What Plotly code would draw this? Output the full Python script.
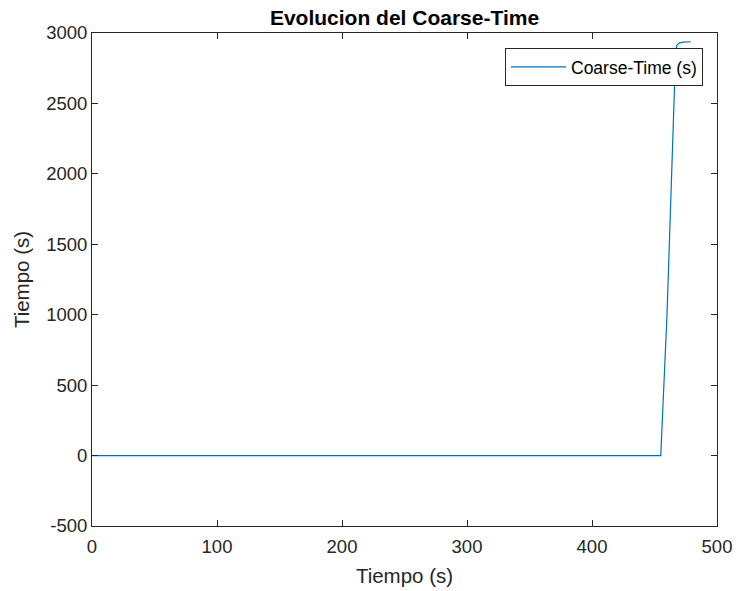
import plotly.graph_objects as go

t = [0, 455, 460, 465, 466, 467, 468, 470, 473, 476, 479]
coarse = [0, 0, 1000, 2350, 2700, 2880, 2915, 2930, 2935, 2937, 2938]
series_name = "Coarse-Time (s)"
x_ticks = [0, 100, 200, 300, 400, 500]
y_ticks = [-500, 0, 500, 1000, 1500, 2000, 2500, 3000]
y_tick_text = ["-500", "0", "500", "1000", "1500", "2000", "2500", "3000"]

FONT = "Liberation Sans, Arial, Helvetica"
fig = go.Figure()
fig.add_trace(go.Scatter(x=t, y=coarse, mode="lines", name=series_name,
                         line=dict(color="#0072BD", width=1.2)))

axis_common = dict(showline=True, linecolor="#262626", linewidth=1, mirror="ticks",
                   ticks="inside", ticklen=6, tickcolor="#262626", showgrid=False,
                   zeroline=False, automargin=False,
                   tickfont=dict(family=FONT, size=18.5, color="#262626"))
fig.update_layout(
    width=736, height=591,
    margin=dict(l=92, r=19, t=33, b=65),
    paper_bgcolor="white", plot_bgcolor="white",
    title=dict(text="<b>Evolucion del Coarse-Time</b>", x=0.5, xref="paper", y=1, yref="paper",
               yanchor="bottom", pad=dict(b=8),
               font=dict(family=FONT, size=21, color="black")),
    xaxis=dict(range=[0, 500], tickvals=x_ticks, ticklabelstandoff=4,
               title=dict(text="Tiempo (s)", standoff=12,
               font=dict(family=FONT, size=20.5, color="#262626")), **axis_common),
    yaxis=dict(range=[-500, 3000], tickvals=y_ticks, ticktext=y_tick_text,
               title=dict(text="Tiempo (s)", standoff=10,
               font=dict(family=FONT, size=20.5, color="#262626")), **axis_common),
    showlegend=True,
    legend=dict(x=0.9776, y=0.9696, xanchor="right", yanchor="top", bordercolor="#262626", borderwidth=1,
                bgcolor="white", itemwidth=55, font=dict(family=FONT, size=17.5, color="black")),
)
fig.write_html("out.html")
